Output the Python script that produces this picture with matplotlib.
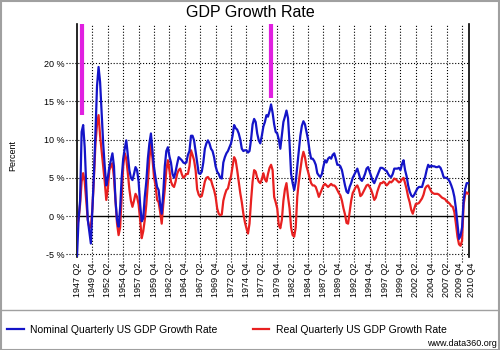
import matplotlib
matplotlib.use("Agg")
import matplotlib.pyplot as plt
from matplotlib.lines import Line2D
from matplotlib.patches import Rectangle
from matplotlib.transforms import ScaledTranslation

plt.rcParams['font.family'] = ['Liberation Sans', 'DejaVu Sans']

# year-over-year growth, one value per quarter, 1947 Q2 .. 2010 Q4
nominal = [
    -5.3, -0.5, 2.0, 11.0, 11.9, 9.0, 4.0, -0.5, -2.0, -3.6,
    1.0, 5.5, 11.0, 17.0, 19.5, 17.5, 13.5, 9.5, 6.5, 4.0,
    5.0, 6.4, 7.3, 8.2, 6.5, 2.0, -0.5, -1.4, 1.0, 5.0,
    7.5, 8.8, 9.9, 8.0, 6.0, 5.0, 4.7, 5.5, 6.4, 6.0,
    4.5, 1.5, -0.7, -0.3, 2.5, 4.5, 7.5, 9.5, 10.8, 8.5,
    6.4, 5.0, 3.8, 3.4, 1.5, 0.3, 3.0, 6.5, 8.5, 9.0,
    7.8, 7.0, 5.5, 5.0, 5.8, 6.8, 7.7, 7.5, 7.3, 7.0,
    6.9, 7.0, 8.0, 8.5, 10.5, 10.5, 9.9, 8.5, 7.0, 5.6,
    5.5, 5.8, 7.0, 8.8, 9.5, 9.9, 9.5, 8.8, 8.5, 7.7,
    6.5, 5.8, 5.5, 5.0, 4.9, 7.0, 7.7, 8.2, 8.5, 9.0,
    9.5, 10.5, 11.9, 11.5, 11.3, 10.8, 10.0, 8.8, 8.5, 8.6,
    8.6, 8.3, 8.5, 10.0, 12.0, 12.7, 12.3, 10.8, 9.9, 9.5,
    10.5, 11.7, 12.3, 13.2, 13.0, 13.7, 14.6, 13.5, 12.0, 11.0,
    10.8, 10.0, 8.8, 10.5, 12.3, 13.0, 13.8, 12.8, 9.5, 5.5,
    4.3, 3.4, 4.5, 6.5, 8.5, 10.5, 11.8, 12.4, 12.0, 11.0,
    10.0, 8.5, 7.5, 7.5, 7.2, 6.7, 5.6, 5.3, 5.1, 5.5,
    6.5, 7.3, 7.0, 7.5, 7.7, 7.5, 8.0, 8.2, 7.5, 6.7,
    6.7, 6.5, 6.0, 5.0, 4.0, 3.2, 3.0, 3.8, 4.3, 5.0,
    5.4, 5.8, 6.2, 5.5, 4.8, 4.6, 5.0, 5.5, 6.2, 6.4,
    5.8, 5.2, 4.6, 4.3, 4.8, 5.3, 5.8, 6.3, 6.3, 6.2,
    6.0, 5.9, 5.5, 5.2, 5.1, 5.5, 6.2, 6.2, 6.2, 6.3,
    6.0, 6.8, 7.3, 6.0, 5.2, 4.0, 3.2, 2.7, 2.5, 2.8,
    3.2, 3.6, 3.8, 3.8, 3.8, 4.5, 5.1, 6.0, 6.7, 6.4,
    6.6, 6.5, 6.5, 6.4, 6.4, 6.5, 6.3, 5.8, 5.1, 5.0,
    5.0, 4.8, 4.5, 4.0, 3.4, 2.5, 1.0, -1.0, -3.0, -2.6,
    -1.5, 2.0, 3.5, 4.3, 4.3,
]

real = [
    -1.4, -0.5, 1.5, 4.5, 5.6, 4.5, 2.0, -0.5, -1.5, -1.5,
    1.0, 5.0, 9.5, 12.0, 13.2, 10.5, 8.5, 6.5, 4.5, 2.1,
    3.5, 6.0, 6.5, 6.9, 5.0, 2.0, -1.0, -2.5, -1.5, 2.5,
    6.5, 8.2, 7.5, 5.6, 3.5, 2.0, 1.2, 2.0, 2.9, 2.5,
    1.5, -0.5, -2.9, -2.0, -0.5, 1.5, 4.3, 7.5, 9.5, 7.5,
    5.1, 4.0, 2.1, 1.8, 0.5, -1.0, 1.5, 3.5, 6.0, 7.3,
    6.0, 4.5, 4.0, 3.8, 4.5, 5.5, 6.0, 6.2, 5.5, 5.0,
    5.2, 5.5, 5.5, 6.5, 8.6, 8.0, 7.3, 6.0, 3.5, 2.8,
    2.5, 2.6, 3.5, 4.5, 5.0, 5.1, 4.8, 4.7, 4.0, 3.4,
    2.5, 1.0, 0.3, 0.1, 0.2, 2.0, 2.8, 3.4, 3.6, 4.5,
    5.2, 6.5, 7.7, 7.3, 6.0, 4.5, 3.0, 1.8, 0.3, -0.8,
    -1.6, -2.3, -1.0, 2.0, 4.5, 6.0, 5.8, 5.0, 4.5, 4.3,
    4.8, 5.6, 4.8, 4.5, 5.5, 6.3, 6.7, 6.0, 2.5, 1.8,
    1.0, -1.2, -1.6, -0.5, 2.0, 3.5, 4.3, 2.5, 1.0, -1.5,
    -2.5, -2.7, -1.5, 2.5, 4.5, 6.0, 7.5, 8.4, 7.7, 6.5,
    5.8, 5.0, 4.3, 4.0, 4.0, 3.8, 3.2, 2.5, 3.0, 3.5,
    4.0, 4.2, 4.0, 3.8, 4.0, 4.2, 4.0, 4.0, 3.8, 3.4,
    3.0, 2.7, 2.0, 1.0, 0.2, -0.9, -1.0, 0.5, 2.0, 3.0,
    3.4, 3.8, 4.0, 3.5, 2.6, 2.8, 3.2, 3.6, 4.0, 4.1,
    3.8, 3.4, 2.8, 2.1, 2.4, 3.2, 3.8, 4.3, 4.3, 4.5,
    4.3, 4.0, 4.2, 4.5, 4.4, 4.6, 4.9, 4.8, 4.6, 4.4,
    4.5, 4.8, 5.0, 4.3, 3.5, 2.5, 1.8, 0.8, 0.3, 1.0,
    1.6, 1.6, 1.7, 2.0, 2.3, 2.8, 3.6, 3.9, 4.0, 3.6,
    3.2, 3.0, 2.9, 2.9, 2.9, 2.8, 2.6, 2.4, 2.3, 2.2,
    1.9, 1.8, 1.6, 1.3, 1.2, 0.5, -1.0, -2.7, -3.7, -3.9,
    -3.2, 1.5, 2.8, 3.1, 2.9,
]

tick_pos = [0, 10, 20, 30, 40, 50, 60, 70, 80, 90, 100, 110, 120, 130,
            140, 150, 160, 170, 180, 190, 200, 210, 220, 230, 240, 250, 254]
tick_labels = ["1947 Q2", "1949 Q4", "1952 Q2", "1954 Q4", "1957 Q2", "1959 Q4",
               "1962 Q2", "1964 Q4", "1967 Q2", "1969 Q4", "1972 Q2", "1974 Q4",
               "1977 Q2", "1979 Q4", "1982 Q2", "1984 Q4", "1987 Q2", "1989 Q4",
               "1992 Q2", "1994 Q4", "1997 Q2", "1999 Q4", "2002 Q2", "2004 Q4",
               "2007 Q2", "2009 Q4", "2010 Q4"]
y_ticks = [-5, 0, 5, 10, 15, 20]

# magenta markers: quarter index and lower end (%)
mark_q = [3, 126]
mark_low = [13.2, 15.4]

fig = plt.figure(figsize=(5, 3.5), dpi=100)
ax = fig.add_axes([0.154, 0.266, 0.784, 0.665])

q = list(range(len(nominal)))
ax.plot(q, nominal, color='#1414c8', lw=1.6, zorder=4)
ax.plot(q, real, color='#e82020', lw=1.6, zorder=3)

ax.vlines(mark_q, mark_low, 30, color='#e020e0', lw=3, zorder=5)

ax.set_xlim(0, 254.5)
ax.set_ylim(-5.35, 25.1)

# dotted grid, running a little past the axes like the original
for v in y_ticks:
    if v == 0:
        ax.axhline(0, color='black', lw=1, zorder=2)
        ax.plot([-0.027, 0], [0, 0], transform=ax.get_yaxis_transform(),
                color='black', lw=0.8, ls=':', clip_on=False)
    else:
        ax.plot([-0.027, 1], [v, v], transform=ax.get_yaxis_transform(),
                color='black', lw=0.8, ls=':', clip_on=False, zorder=1)
for t in tick_pos[1:-1]:
    ax.plot([t, t], [-0.02, 1], transform=ax.get_xaxis_transform(),
            color='black', lw=0.8, ls=':', clip_on=False, zorder=1)

ax.set_yticks(y_ticks)
ax.set_yticklabels([f"{v} %" for v in y_ticks], fontsize=6.5)
ax.set_xticks(tick_pos)
ax.set_xticklabels(tick_labels, rotation=90, fontsize=6.5)
ax.tick_params(axis='y', length=0, pad=9)
ax.tick_params(axis='x', length=0, pad=4)

# the last two labels crowd each other; nudge them apart a little
xt = ax.get_xticklabels()
xt[-2].set_transform(xt[-2].get_transform() + ScaledTranslation(-1.5 / 72, 0, fig.dpi_scale_trans))
xt[-1].set_transform(xt[-1].get_transform() + ScaledTranslation(2.5 / 72, 0, fig.dpi_scale_trans))

for s in ['top', 'bottom']:
    ax.spines[s].set_visible(False)
for s in ['left', 'right']:
    ax.spines[s].set_linewidth(1.2)

fig.text(0.5, 0.965, "GDP Growth Rate", ha='center', va='center', fontsize=11.5)
fig.text(0.026, 0.557, "Percent", rotation=90, ha='center', va='center', fontsize=6.5)

handles = [Line2D([], [], color='#1414c8', lw=1.6), Line2D([], [], color='#e82020', lw=1.6)]
fig.legend(handles, ["Nominal Quarterly US GDP Growth Rate", "Real Quarterly US GDP Growth Rate"],
           loc='center left', bbox_to_anchor=(0.014, 0.057), ncol=2, frameon=False,
           fontsize=7.5, handlelength=1.6, handletextpad=0.6, columnspacing=3.4,
           borderpad=0, borderaxespad=0)

fig.text(0.994, 0.02, "www.data360.org", ha='right', va='center', fontsize=6.5)

fig.add_artist(Line2D([0, 1], [1 - 310 / 350] * 2, transform=fig.transFigure,
                      color='#a0a0a0', lw=1))
fig.add_artist(Rectangle((0.001, 0.001), 0.997, 0.996, transform=fig.transFigure,
                         fill=False, edgecolor='#a0a0a0', lw=1.5))

fig.savefig("out.png", dpi=100)
